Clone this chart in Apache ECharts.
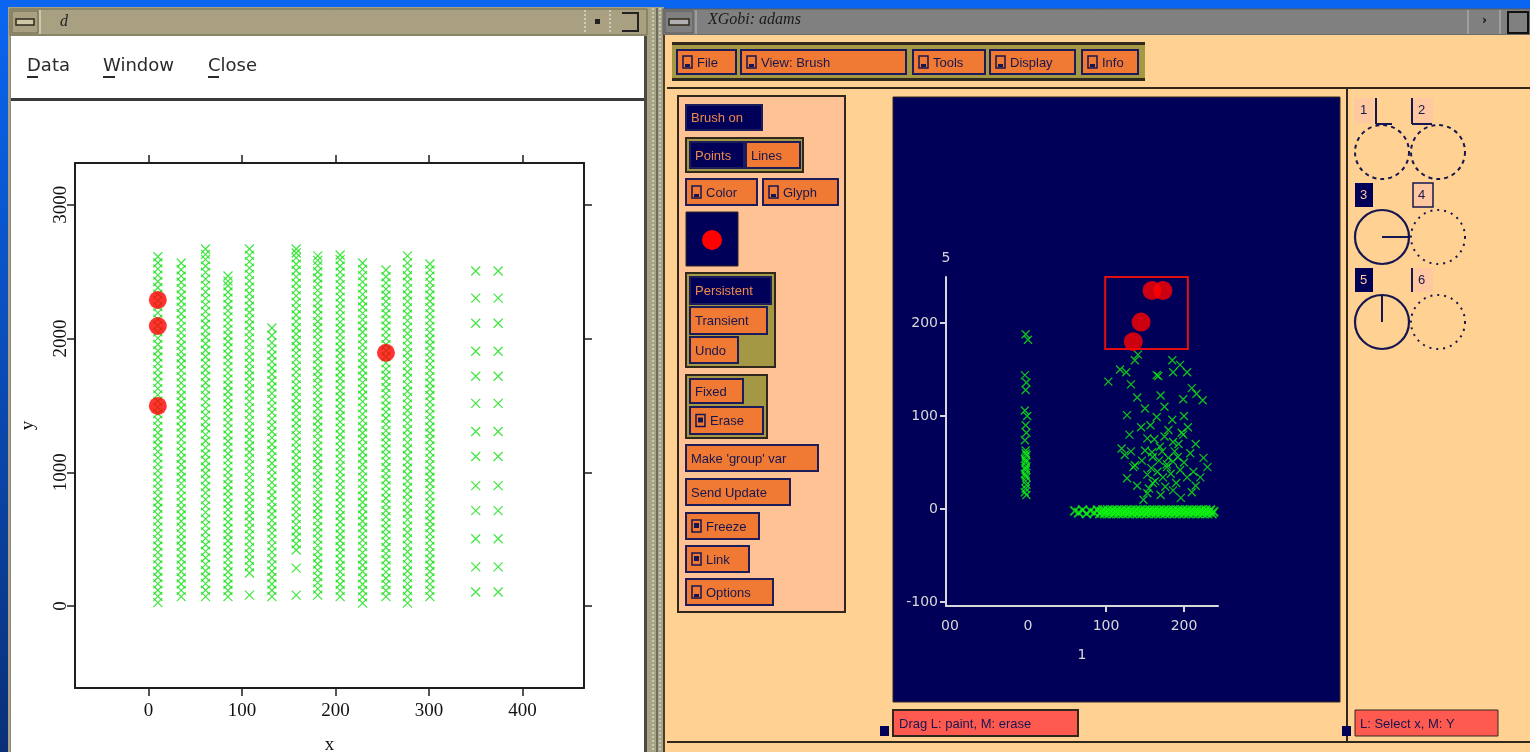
<!DOCTYPE html>
<html><head><meta charset="utf-8">
<script src="https://cdn.jsdelivr.net/npm/echarts@6/dist/echarts.min.js"></script>
<style>html,body{margin:0;padding:0;background:#0b5fe8;}#c{width:1530px;height:752px;}</style>
</head><body><div id="c"></div><script>
// ---------- DATA ----------
// Left plot (S-PLUS window): column x positions and y values of each column
const leftXTicks = [0, 100, 200, 300, 400];
const leftYTicks = [0, 1000, 2000, 3000];
const colX = [10, 35, 61, 85, 108, 132, 158, 181, 205, 229, 254, 277, 301, 350, 374];
const colY = [
 [25,72,118,166,213,260,308,354,401,449,496,543,590,637,684,731,778,826,872,919,966,1013,1061,1108,1155,1202,1249,1296,1343,1390,1438,1485,1532,1579,1626,1673,1720,1768,1815,1862,1909,1956,2003,2050,2097,2145,2192,2239,2286,2333,2380,2427,2474,2521,2567,2612],
 [70,117,165,211,258,306,352,399,447,494,540,588,634,681,729,775,822,870,917,963,1010,1058,1105,1151,1198,1246,1293,1339,1386,1434,1481,1527,1574,1622,1669,1715,1762,1810,1857,1903,1950,1998,2045,2091,2138,2186,2233,2279,2326,2374,2421,2467,2515,2565],
 [70,118,167,215,264,312,361,409,458,506,555,603,652,700,749,797,846,894,943,991,1040,1088,1137,1185,1234,1282,1331,1379,1428,1476,1525,1573,1622,1670,1719,1767,1816,1864,1913,1961,2010,2058,2107,2155,2204,2252,2301,2349,2398,2446,2495,2543,2592,2630,2670],
 [70,116,163,209,256,302,349,395,442,488,535,581,628,674,721,767,814,860,907,953,1000,1046,1093,1139,1186,1232,1279,1325,1372,1418,1465,1511,1558,1604,1651,1697,1744,1790,1837,1883,1930,1976,2023,2069,2116,2162,2209,2255,2302,2348,2395,2430,2468],
 [82,247,295,342,390,437,485,532,580,627,675,722,770,817,865,912,960,1007,1055,1102,1150,1197,1245,1292,1340,1387,1435,1482,1530,1577,1625,1672,1720,1767,1815,1862,1910,1957,2005,2052,2100,2147,2195,2242,2290,2337,2385,2432,2480,2527,2575,2622,2670],
 [70,118,165,213,260,308,355,403,450,498,545,593,640,688,735,783,830,878,925,973,1020,1068,1115,1163,1210,1258,1305,1353,1400,1448,1495,1543,1590,1638,1685,1733,1780,1828,1875,1923,1970,2025,2079],
 [82,284,419,466,514,561,609,656,704,751,799,846,894,941,989,1036,1084,1131,1179,1226,1274,1321,1369,1416,1464,1511,1559,1606,1654,1701,1749,1796,1844,1891,1939,1986,2034,2081,2129,2176,2224,2271,2319,2366,2414,2461,2509,2556,2604,2640,2670],
 [82,128,175,221,268,314,361,407,454,500,547,593,640,686,733,779,826,872,919,965,1012,1058,1105,1151,1198,1244,1291,1337,1384,1430,1477,1523,1570,1616,1663,1709,1756,1802,1849,1895,1942,1988,2035,2081,2128,2174,2221,2267,2314,2360,2407,2453,2500,2546,2585,2618],
 [70,117,163,210,257,303,350,397,443,490,537,583,630,677,723,770,817,863,910,957,1003,1050,1097,1143,1190,1237,1283,1330,1377,1423,1470,1517,1563,1610,1657,1703,1750,1797,1843,1890,1937,1983,2030,2077,2123,2170,2217,2263,2310,2357,2403,2450,2497,2543,2590,2625],
 [22,69,116,163,210,258,305,352,399,446,493,540,587,634,681,729,776,823,870,917,964,1011,1058,1105,1152,1200,1247,1294,1341,1388,1435,1482,1529,1576,1623,1671,1718,1765,1812,1859,1906,1953,2000,2047,2094,2142,2189,2236,2283,2330,2377,2424,2471,2518,2565],
 [70,116,162,208,254,300,346,392,438,484,530,576,622,668,714,760,806,852,898,944,990,1036,1082,1128,1174,1220,1266,1312,1358,1404,1450,1496,1542,1588,1634,1680,1726,1772,1818,1864,1910,1956,2002,2048,2094,2140,2186,2232,2278,2324,2370,2416,2462,2513],
 [22,70,118,166,214,262,310,358,406,454,502,550,598,646,694,742,790,838,886,934,982,1030,1078,1126,1174,1222,1270,1318,1366,1414,1462,1510,1558,1606,1654,1702,1750,1798,1846,1894,1942,1990,2038,2086,2134,2182,2230,2278,2326,2374,2422,2470,2518,2566,2618],
 [70,117,164,211,258,305,352,399,446,493,540,587,634,681,728,775,822,869,916,963,1010,1057,1104,1151,1198,1245,1292,1339,1386,1433,1480,1527,1574,1621,1668,1715,1762,1809,1856,1903,1950,1997,2044,2091,2138,2185,2232,2279,2326,2373,2420,2467,2514,2558],
 [105,293,503,713,900,1118,1305,1515,1718,1905,2115,2303,2505],
 [105,293,503,713,900,1118,1305,1515,1718,1905,2115,2303,2505]
];
const leftRedX = [10, 10, 10, 254];
const leftRedY = [2289, 2094, 1496, 1894];

// Right plot (XGobi window)
const rightXTickVals = [-100, 0, 100, 200];
const rightXTickText = ['00', '0', '100', '200'];
const rightYTicks = [-100, 0, 100, 200];
const stackX = [-3,0,-4,-2,-3,-4,-1,-3,-2,-4,-3,-2,-4,-3,-2,-3,-4,-2,-3,-2,-3,-4,-2,-3,-3,-3,-3];
const stackY = [188,182,144,136,128,106,100,90,82,74,63,58,54,50,46,42,38,34,30,26,22,18,15,60,52,44,36];
const clusterX = [141,137,103,132,165,167,186,204,199,224,127,165,185,153,186,199,197,124,160,186,208,137,135,153,160,173,186,204,221,127,153,210,178,195,169,159,172,180,146,166,190,176,200,212,150,193,180,162,
 118,126,185,195,210,216,140,150,175,200,130,145,205,215,225,140,148,170,183,196,215,230,120,132,158,168,188,175,157,170,163,155,178,192];
const clusterY = [166,160,137,134,144,143,147,147,118,117,101,99,96,76,72,80,82,58,56,51,60,47,45,37,28,34,20,34,34,33,17,18,45,42,67,61,62,55,52,40,28,24,50,40,63,70,85,75,
 150,147,160,155,130,124,120,108,110,100,80,88,88,70,55,25,10,15,38,12,25,45,65,62,44,52,62,78,90,122,30,22,48,56];
const bandX = [60,65,70,75,80,85,89,92,94,96,98,100,102,104,106,108,110,112,114,116,118,120,122,124,126,128,130,132,134,136,138,140,142,144,146,148,150,152,154,156,158,160,162,164,166,168,170,172,174,176,178,180,182,184,186,188,190,192,194,196,198,200,202,204,206,208,210,212,214,216,218,220,222,224,226,228,230,232,234,236,238];
const bandY = [-2,-4,-1,-5,-2,-4,-1,-5,-3,-1,-5,-3,-1,-5,-3,-1,-5,-3,-1,-5,-3,-1,-5,-3,-1,-5,-3,-1,-5,-3,-1,-5,-3,-1,-5,-3,-1,-5,-3,-1,-5,-3,-1,-5,-3,-1,-5,-3,-1,-5,-3,-1,-5,-3,-1,-5,-3,-1,-5,-3,-1,-5,-3,-1,-5,-3,-1,-5,-3,-1,-5,-3,-1,-5,-3,-1,-5,-3,-1,-5,-3];
const rightRedX = [159, 173, 145, 135];
const rightRedY = [235, 235, 201, 180];
const brushBox = [[99, 252], [205, 172]];

// ---------- UI CHROME (graphic) ----------
const NAVY = '#000058', ORANGE = '#f07a34', PEACH = '#ffc294', BODY = '#ffd294', OLIVE = '#a49844', DARK = '#30281c', BTXT = '#161650';
const G = [];
function rect(x, y, w, h, fill, stroke, lw, z) {
  G.push({type: 'rect', silent: true, z: z == null ? -10 : z, shape: {x, y, width: w, height: h},
    style: {fill: fill || 'none', stroke: stroke || null, lineWidth: lw || 0}});
}
function line(x1, y1, x2, y2, color, lw, dash, z) {
  G.push({type: 'line', silent: true, z: z == null ? -6 : z, shape: {x1, y1, x2, y2},
    style: {stroke: color, lineWidth: lw || 1, lineDash: dash || null}});
}
function txt(x, y, t, o) {
  G.push({type: 'text', silent: true, z: -5, x, y,
    style: Object.assign({text: t, fill: '#000', font: '13px "Liberation Sans"', textVerticalAlign: 'middle'}, o || {})});
}
function circ(cx, cy, r, color, fill, dash, lw) {
  G.push({type: 'circle', silent: true, z: -6, shape: {cx, cy, r},
    style: {fill: fill || 'none', stroke: color, lineWidth: lw || 2, lineDash: dash || null}});
}
function icon(kind, x, cy) {
  rect(x, cy - 6, 9, 12, 'none', BTXT, 1.5, -6);
  if (kind === 'menu') rect(x + 2, cy + 2, 5, 3, BTXT, null, 0, -6);
  else rect(x + 2, cy - 3, 5, 5, BTXT, null, 0, -6);
}
function btn(x, y, w, h, label, dark, ic) {
  rect(x, y, w, h, dark ? NAVY : ORANGE, '#1c1c5a', 2, -8);
  let tx = x + 5;
  if (ic) { icon(ic, x + 6, y + h / 2); tx = x + 20; }
  txt(tx, y + h / 2 + 1, label, {fill: dark ? '#f0884a' : BTXT});
}

// desktop
G.push({type: 'rect', silent: true, z: -20, shape: {x: 0, y: 0, width: 1530, height: 752},
  style: {fill: {type: 'linear', x: 0, y: 0, x2: 0, y2: 1, colorStops: [{offset: 0, color: '#0a66f2'}, {offset: 1, color: '#0a3078'}]}}});

// ---- left window ----
rect(8, 7, 642, 745, '#a8a282', null, 0, -15);
rect(10, 9, 637, 26, '#a8a080', '#6c684e', 1, -14);
rect(12, 11, 26, 22, '#a8a080', '#6c684e', 1, -12);
rect(16, 19, 18, 6, '#cfc8a8', DARK, 1.5, -11);
line(40, 10, 40, 34, '#d8d4bc', 1.5);
txt(60, 22, 'd', {font: 'italic 16px "Liberation Serif"', fill: '#222'});
line(585, 10, 585, 34, '#e0dcc8', 1.5, [2, 2]);
line(610, 10, 610, 34, '#e0dcc8', 1.5, [2, 2]);
rect(595, 19, 5, 5, '#222', null, 0, -11);
G.push({type: 'polyline', silent: true, z: -6, shape: {points: [[622, 13], [638, 13], [638, 31], [622, 31]]}, style: {stroke: '#222', lineWidth: 2, fill: 'none'}});
rect(10, 36, 636, 63, '#ffffff', null, 0, -14);
rect(10, 98, 636, 3, '#3a3a3a', null, 0, -13);
txt(27, 66, 'Data', {font: '18px "DejaVu Sans"', fill: '#2a2a2a'});
txt(103, 66, 'Window', {font: '18px "DejaVu Sans"', fill: '#2a2a2a'});
txt(208, 66, 'Close', {font: '18px "DejaVu Sans"', fill: '#2a2a2a'});
rect(27, 76, 11, 2, '#2a2a2a', null, 0, -12);
rect(103, 76, 12, 2, '#2a2a2a', null, 0, -12);
rect(208, 76, 11, 2, '#2a2a2a', null, 0, -12);
rect(10, 101, 636, 651, '#ffffff', null, 0, -14);
rect(644, 36, 3, 716, '#4a4a44', null, 0, -12);
rect(10, 36, 1, 716, '#888', null, 0, -12);
// separator between windows
rect(650, 7, 14, 745, '#a8a488', null, 0, -15);
line(653, 8, 653, 752, '#d8d4c0', 1.5, [2, 2]);
line(657, 8, 657, 752, '#5a5a50', 1.5);
line(660, 8, 660, 752, '#d8d4c0', 1.5, [2, 2]);

// ---- right window ----
rect(663, 9, 867, 26, '#808080', '#5a5a5a', 1, -14);
rect(665, 11, 28, 22, '#808080', '#5a5a5a', 1, -12);
rect(669, 19, 20, 6, '#b0b0b0', DARK, 1.5, -11);
line(696, 10, 696, 34, '#a8a8a8', 1.5);
txt(708, 20, 'XGobi: adams', {font: 'italic 16px "Liberation Serif"', fill: '#1a1a1a'});
line(1468, 10, 1468, 34, '#a8a8a8', 1.5);
line(1500, 10, 1500, 34, '#a8a8a8', 1.5);
txt(1482, 21, '›', {font: 'bold 12px "DejaVu Sans"', fill: '#111'});
rect(1508, 12, 20, 21, 'none', '#111', 2, -11);
rect(663, 35, 867, 717, BODY, null, 0, -14);
rect(663, 35, 2, 717, '#4a3e2a', null, 0, -12);
// menu bar
rect(672, 42, 473, 39, OLIVE, null, 0, -12);
rect(672, 42, 473, 3, DARK, null, 0, -11);
rect(672, 78, 473, 3, DARK, null, 0, -11);
btn(677, 50, 59, 24, 'File', false, 'menu');
btn(741, 50, 165, 24, 'View: Brush', false, 'menu');
btn(913, 50, 72, 24, 'Tools', false, 'menu');
btn(990, 50, 85, 24, 'Display', false, 'menu');
btn(1082, 50, 56, 24, 'Info', false, 'menu');
rect(667, 87, 863, 2, DARK, null, 0, -12);
// left control panel
rect(678, 96, 167, 516, PEACH, DARK, 2, -12);
btn(686, 105, 76, 25, 'Brush on', true);
rect(686, 138, 117, 34, OLIVE, DARK, 2, -9);
btn(690, 142, 54, 26, 'Points', true);
btn(746, 142, 54, 26, 'Lines', false);
btn(686, 179, 71, 26, 'Color', false, 'menu');
btn(763, 179, 75, 26, 'Glyph', false, 'menu');
rect(686, 212, 52, 54, NAVY, DARK, 1, -9);
circ(712, 240, 9, '#ff0000', '#ff0000', null, 0);
rect(686, 273, 89, 94, OLIVE, DARK, 2, -9);
btn(690, 277, 81, 27, 'Persistent', true);
btn(690, 307, 77, 27, 'Transient', false);
btn(690, 337, 48, 26, 'Undo', false);
rect(686, 375, 81, 63, OLIVE, DARK, 2, -9);
btn(690, 379, 53, 24, 'Fixed', false);
btn(690, 407, 73, 27, 'Erase', false, 'check');
btn(686, 445, 132, 26, "Make 'group' var", false);
btn(686, 479, 104, 26, 'Send Update', false);
btn(686, 513, 73, 26, 'Freeze', false, 'check');
btn(686, 546, 63, 26, 'Link', false, 'check');
btn(686, 579, 87, 26, 'Options', false, 'menu');
// plot canvas
rect(893, 97, 447, 605, NAVY, DARK, 1, -12);
// dividers
rect(1346, 88, 2, 655, DARK, null, 0, -12);
rect(667, 741, 863, 2, DARK, null, 0, -12);
// status bar
rect(880, 726, 9, 10, NAVY, null, 0, -9);
rect(893, 710, 185, 26, '#ff5a50', DARK, 2, -9);
txt(899, 724, 'Drag L: paint, M: erase', {fill: BTXT});
rect(1342, 726, 9, 10, NAVY, null, 0, -9);
rect(1355, 710, 143, 26, '#ff5a50', DARK, 1, -9);
txt(1360, 724, 'L: Select x, M: Y', {fill: BTXT});
// variable circles panel
const cxs = [1382, 1438], cys = [152, 237, 322];
rect(1355, 98, 18, 25, '#ffc8a0', null, 0, -9); txt(1360, 110, '1', {fill: BTXT});
line(1376, 98, 1376, 124, BTXT, 2); line(1376, 124, 1392, 124, BTXT, 2);
rect(1413, 98, 20, 25, '#ffc8a0', null, 0, -9); txt(1418, 110, '2', {fill: BTXT});
line(1412, 98, 1412, 124, BTXT, 2); line(1412, 124, 1432, 124, BTXT, 2);
rect(1355, 183, 18, 24, NAVY, null, 0, -9); txt(1360, 195, '3', {fill: '#ffc8a0'});
rect(1413, 183, 20, 24, '#ffc8a0', BTXT, 1.5, -9); txt(1418, 195, '4', {fill: BTXT});
rect(1355, 268, 18, 24, NAVY, null, 0, -9); txt(1360, 280, '5', {fill: '#ffc8a0'});
rect(1413, 268, 20, 24, '#ffc8a0', null, 0, -9); txt(1418, 280, '6', {fill: BTXT});
line(1412, 268, 1412, 292, BTXT, 2);
circ(cxs[0], cys[0], 27, BTXT, null, [4, 4], 2);
circ(cxs[1], cys[0], 27, BTXT, null, [4, 4], 2);
circ(cxs[0], cys[1], 27, BTXT, null, null, 2.2);
line(cxs[0], cys[1], cxs[0] + 26, cys[1], BTXT, 2);
circ(cxs[1], cys[1], 27, BTXT, null, [2, 5], 2);
circ(cxs[0], cys[2], 27, BTXT, null, null, 2.2);
line(cxs[0], cys[2], cxs[0], cys[2] - 26, BTXT, 2);
circ(cxs[1], cys[2], 27, BTXT, null, [2, 5], 2);

// ---------- CHART ----------
const cross = 'path://M0,0L10,10M10,0L0,10';
const leftGreen = [];
colX.forEach((x, i) => colY[i].forEach(y => leftGreen.push([x, y])));
const leftRed = leftRedX.map((x, i) => [x, leftRedY[i]]);
const rightGreen = [];
stackX.forEach((x, i) => rightGreen.push([x, stackY[i]]));
clusterX.forEach((x, i) => rightGreen.push([x, clusterY[i]]));
const band = bandX.map((x, i) => [x, bandY[i]]);
const rightRed = rightRedX.map((x, i) => [x, rightRedY[i]]);

const serifFont = {color: '#111', fontFamily: 'Liberation Serif', fontSize: 19};
const frameLine = {show: true, onZero: false, lineStyle: {color: '#1e1e1e', width: 2}};
const frameTick = (vals) => ({show: true, length: 8, customValues: vals, lineStyle: {color: '#1e1e1e', width: 1.5}});
const xgLine = {show: true, onZero: false, lineStyle: {color: '#d8d8d8', width: 2}};
const xgLabel = {color: '#d8d8d8', fontFamily: 'DejaVu Sans', fontSize: 14};
const plain = v => String(v);

const option = {
  animation: false,
  graphic: G,
  grid: [
    {left: 75, top: 163, width: 509, height: 525, outerBoundsMode: 'none', containLabel: false},
    {left: 946, top: 277, width: 272, height: 329, outerBoundsMode: 'none', containLabel: false}
  ],
  xAxis: [
    {gridIndex: 0, type: 'value', min: -78.6, max: 465.8, position: 'bottom', axisLine: frameLine, axisTick: frameTick(leftXTicks),
      axisLabel: Object.assign({customValues: leftXTicks, margin: 14, formatter: plain}, serifFont), splitLine: {show: false},
      name: 'x', nameLocation: 'middle', nameGap: 48, nameTextStyle: serifFont},
    {gridIndex: 0, type: 'value', min: -78.6, max: 465.8, position: 'top', axisLine: frameLine, axisTick: frameTick(leftXTicks),
      axisLabel: {show: false}, splitLine: {show: false}},
    {gridIndex: 1, type: 'value', min: -105.1, max: 243.6, position: 'bottom', axisLine: xgLine,
      axisTick: {show: true, length: 6, customValues: [100, 200], lineStyle: {color: '#d8d8d8', width: 2}},
      axisLabel: Object.assign({customValues: rightXTickVals, margin: 13,
        formatter: v => rightXTickText[rightXTickVals.indexOf(Math.round(v))] ?? ''}, xgLabel),
      splitLine: {show: false}, name: '1', nameLocation: 'middle', nameGap: 42, nameTextStyle: xgLabel}
  ],
  yAxis: [
    {gridIndex: 0, type: 'value', min: -613, max: 3313, position: 'left', axisLine: frameLine, axisTick: frameTick(leftYTicks),
      axisLabel: Object.assign({customValues: leftYTicks, rotate: 90, margin: 4, formatter: plain}, serifFont), splitLine: {show: false},
      name: 'y', nameLocation: 'middle', nameGap: 37, nameRotate: 90, nameTextStyle: serifFont},
    {gridIndex: 0, type: 'value', min: -613, max: 3313, position: 'right', axisLine: frameLine, axisTick: frameTick(leftYTicks),
      axisLabel: {show: false}, splitLine: {show: false}},
    {gridIndex: 1, type: 'value', min: -104.3, max: 249.5, position: 'left', axisLine: xgLine,
      axisTick: {show: true, length: 6, customValues: rightYTicks, lineStyle: {color: '#d8d8d8', width: 2}},
      axisLabel: Object.assign({customValues: rightYTicks, margin: 8, formatter: plain}, xgLabel), splitLine: {show: false},
      name: '5', nameLocation: 'end', nameGap: 12, nameTextStyle: xgLabel}
  ],
  series: [
    {type: 'scatter', xAxisIndex: 0, yAxisIndex: 0, data: leftGreen, symbol: cross, symbolSize: 9,
      itemStyle: {color: 'rgba(0,0,0,0)', borderColor: '#10e010', borderWidth: 1.2}, silent: true, z: 2},
    {type: 'scatter', xAxisIndex: 0, yAxisIndex: 0, data: leftRed, symbol: 'circle', symbolSize: 18,
      itemStyle: {color: '#ff0000'}, silent: true, z: 3},
    {type: 'scatter', xAxisIndex: 2, yAxisIndex: 2, data: rightGreen, symbol: cross, symbolSize: 8,
      itemStyle: {color: 'rgba(0,0,0,0)', borderColor: '#10f010', borderWidth: 1.3}, silent: true, z: 2},
    {type: 'scatter', xAxisIndex: 2, yAxisIndex: 2, data: band, symbol: cross, symbolSize: 9,
      itemStyle: {color: 'rgba(0,0,0,0)', borderColor: '#10f010', borderWidth: 2}, silent: true, z: 2},
    {type: 'scatter', xAxisIndex: 2, yAxisIndex: 2, data: rightRed, symbol: 'circle', symbolSize: 19,
      itemStyle: {color: '#ff0000'}, silent: true, z: 3,
      markArea: {silent: true, itemStyle: {color: 'rgba(0,0,0,0)', borderColor: '#e01010', borderWidth: 2},
        data: [[{coord: brushBox[0]}, {coord: brushBox[1]}]]}}
  ]
};
const chart = echarts.init(document.getElementById('c'), null, {renderer: 'canvas'});
chart.setOption(option);
</script></body></html>
